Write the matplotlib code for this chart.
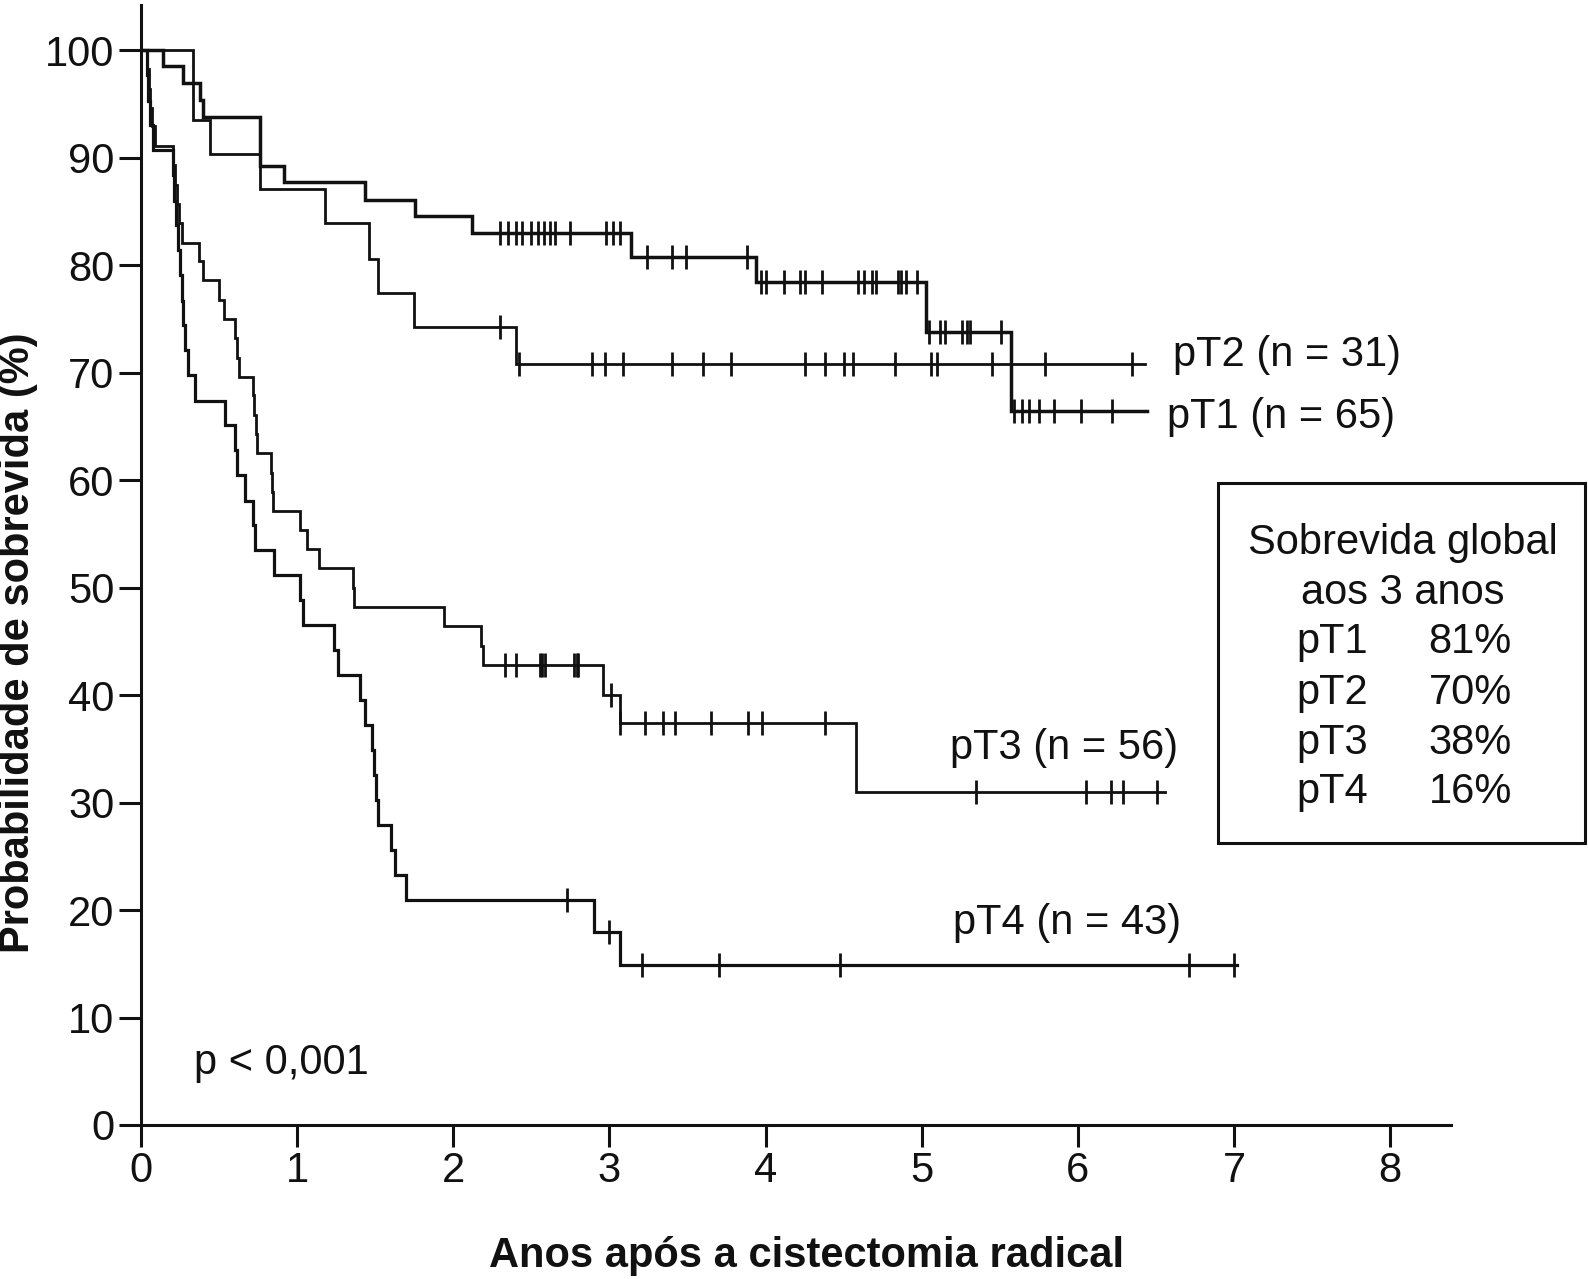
import numpy as np
import matplotlib
matplotlib.use("Agg")
import matplotlib.pyplot as plt
from matplotlib.patches import Rectangle

plt.rcParams['font.family'] = ['Liberation Sans', 'DejaVu Sans']

# Kaplan-Meier steps (years, % survival)
pt1_t = [0, 0.143, 0.271, 0.378, 0.40, 0.76, 0.914, 1.437, 1.757, 2.12, 3.14, 3.94, 5.03, 5.57]
pt1_s = [100, 98.5, 96.9, 95.4, 93.8, 89.2, 87.7, 86.1, 84.6, 83.0, 80.8, 78.4, 73.8, 66.4]
pt1_end = 6.44
pt1_cens = [2.30, 2.35, 2.40, 2.44, 2.50, 2.54, 2.58, 2.62, 2.65, 2.75, 2.98, 3.02, 3.07,
            3.24, 3.40, 3.49, 3.88, 3.97, 4.00, 4.12, 4.22, 4.25, 4.36, 4.59, 4.63, 4.68,
            4.71, 4.85, 4.87, 4.90, 4.97, 5.05, 5.12, 5.15, 5.26, 5.29, 5.31, 5.51, 5.59,
            5.64, 5.69, 5.75, 5.85, 6.02, 6.22]

pt2_t = [0, 0.335, 0.44, 0.76, 1.18, 1.46, 1.52, 1.747, 2.40]
pt2_s = [100, 93.5, 90.3, 87.1, 83.9, 80.6, 77.4, 74.2, 70.8]
pt2_end = 6.43
pt2_cens = [2.30, 2.42, 2.89, 2.97, 3.09, 3.40, 3.60, 3.78, 4.25, 4.38, 4.50, 4.56,
            4.83, 5.06, 5.10, 5.45, 5.79, 6.35]

pt3_t = [0, 0.04, 0.05, 0.06, 0.07, 0.09, 0.205, 0.215, 0.23, 0.245, 0.26, 0.37, 0.40,
         0.50, 0.53, 0.60, 0.613, 0.626, 0.72, 0.725, 0.735, 0.743, 0.83, 0.838, 0.848,
         1.02, 1.06, 1.14, 1.36, 1.365, 1.94, 2.18, 2.19, 2.96, 3.07, 4.58]
pt3_s = [100, 98.2, 96.4, 94.6, 92.9, 91.1, 89.3, 87.5, 85.7, 83.9, 82.1, 80.4, 78.6,
         76.8, 75.0, 73.2, 71.4, 69.6, 67.9, 66.1, 64.3, 62.5, 60.7, 58.9, 57.1,
         55.4, 53.6, 51.8, 50.0, 48.2, 46.4, 44.6, 42.8, 40.0, 37.4, 31.0]
pt3_end = 6.56
pt3_cens = [2.33, 2.40, 2.555, 2.57, 2.585, 2.775, 2.79, 2.80, 3.01, 3.07, 3.23, 3.34,
            3.42, 3.65, 3.89, 3.98, 4.38, 5.35, 6.05, 6.21, 6.29, 6.51]

pt4_t = [0, 0.036, 0.045, 0.06, 0.08, 0.205, 0.213, 0.222, 0.235, 0.25, 0.262, 0.272,
         0.283, 0.30, 0.345, 0.541, 0.604, 0.615, 0.668, 0.72, 0.73, 0.85, 1.02, 1.04,
         1.235, 1.26, 1.405, 1.437, 1.478, 1.49, 1.503, 1.516, 1.60, 1.626, 1.70, 2.90, 3.065]
pt4_s = [100, 97.7, 95.3, 93.0, 90.7, 88.4, 86.0, 83.7, 81.4, 79.1, 76.7, 74.4,
         72.1, 69.8, 67.4, 65.1, 62.8, 60.5, 58.1, 55.8, 53.5, 51.2, 48.8, 46.5,
         44.2, 41.9, 39.5, 37.2, 34.9, 32.6, 30.2, 27.9, 25.6, 23.3, 20.9, 18.0, 14.9]
pt4_end = 7.02
pt4_cens = [2.73, 3.00, 3.21, 3.70, 4.48, 6.71, 7.00]

curve_labels = ["pT1 (n = 65)", "pT2 (n = 31)", "pT3 (n = 56)", "pT4 (n = 43)"]
label_pos = [(6.57, 65.9), (6.61, 71.6), (5.18, 35.1), (5.20, 18.8)]

table_groups = ["pT1", "pT2", "pT3", "pT4"]
table_values = ["81%", "70%", "38%", "16%"]

W, H = 1588, 1279
fig = plt.figure(figsize=(W / 100, H / 100), dpi=100)
ax = fig.add_axes([141 / W, 1 - 1125 / H, (1451 - 141) / W, (1125 - 5) / H])
ink = "#111111"


def draw_km(t, s, end, cens, lw):
    t = np.array(t + [end])
    s = np.array(s + [s[-1]])
    ax.plot(t, s, drawstyle="steps-post", color=ink, lw=lw, solid_joinstyle="miter")
    c = np.array(cens)
    idx = np.searchsorted(t[:-1], c, side="right") - 1
    ax.plot(c, s[idx], ls="none", marker="|", ms=17, mew=2.0, color=ink)


draw_km(pt1_t, pt1_s, pt1_end, pt1_cens, 2.5)
draw_km(pt2_t, pt2_s, pt2_end, pt2_cens, 2.0)
draw_km(pt3_t, pt3_s, pt3_end, pt3_cens, 2.0)
draw_km(pt4_t, pt4_s, pt4_end, pt4_cens, 2.3)

for lab, (x, y) in zip(curve_labels, label_pos):
    ax.text(x, y, lab, fontsize=30, ha="left", va="center", color=ink)

ax.text(0.34, 5.8, "p < 0,001", fontsize=30, ha="left", va="center", color=ink)

ax.set_xlim(0, 8.39)
ax.set_ylim(0, 104.2)
ax.set_xticks(range(0, 9))
ax.set_yticks(range(0, 101, 10))
for side in ["top", "right"]:
    ax.spines[side].set_visible(False)
for side in ["left", "bottom"]:
    ax.spines[side].set_linewidth(2.2)
    ax.spines[side].set_color(ink)
ax.tick_params(axis="both", direction="out", length=16, width=2.2, color=ink,
               labelsize=30, labelcolor=ink)
ax.tick_params(axis="y", pad=3)
ax.tick_params(axis="x", pad=3)

fig.text(18 / W, 1 - 643 / H, "Probabilidade de sobrevida (%)", rotation=90,
         fontsize=30, fontweight="bold", ha="center", va="center", color=ink)
fig.text(807 / W, 1 - 1256 / H, "Anos após a cistectomia radical",
         fontsize=30, fontweight="bold", ha="center", va="center", color=ink)

# summary box
fig.patches.append(Rectangle((1218 / W, 1 - 843 / H), (1585 - 1218) / W, (843 - 483) / H,
                             transform=fig.transFigure, fill=False, lw=2.2, edgecolor=ink))
fig.text(1403 / W, 1 - 543 / H, "Sobrevida global", fontsize=30, ha="center", va="center", color=ink)
fig.text(1403 / W, 1 - 593 / H, "aos 3 anos", fontsize=30, ha="center", va="center", color=ink)
row_y = [642, 693, 743, 792]
for g, v, ry in zip(table_groups, table_values, row_y):
    fig.text(1296 / W, 1 - ry / H, g, fontsize=30, ha="left", va="center", color=ink)
    fig.text(1512 / W, 1 - ry / H, v, fontsize=30, ha="right", va="center", color=ink)

fig.savefig("out.png", dpi=100)
